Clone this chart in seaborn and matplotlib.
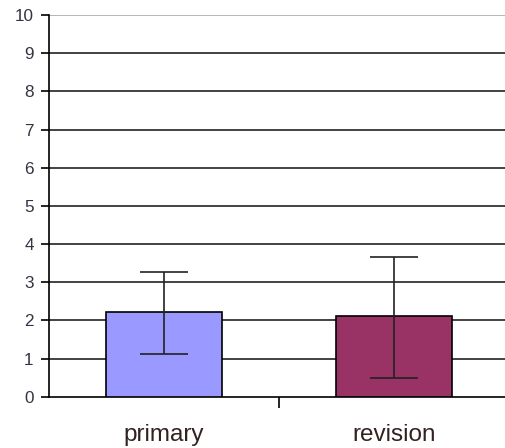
import matplotlib
matplotlib.use("Agg")
import matplotlib.pyplot as plt
import seaborn as sns
import pandas as pd

categories = ["primary", "revision"]
means = [2.22, 2.11]
err_low = [1.12, 0.48]
err_high = [3.26, 3.67]
y_ticks = list(range(0, 11))
bar_colors = ["#9999FF", "#993366"]

sns.set_style("white")
plt.rcParams["font.family"] = ["Liberation Sans", "DejaVu Sans"]

df = pd.DataFrame({"group": categories, "value": means})

fig = plt.figure(figsize=(5.05, 4.48), dpi=100)
ax = fig.add_axes([49 / 505, 1 - 396.7 / 448, 1 - 49 / 505, (396.7 - 15) / 448])

sns.barplot(data=df, x="group", y="value", hue="group", palette=bar_colors,
            saturation=1, errorbar=None, width=0.505, edgecolor="black",
            linewidth=1.2, legend=False, ax=ax, zorder=3)

yerr = [[m - lo for m, lo in zip(means, err_low)],
        [hi - m for m, hi in zip(means, err_high)]]
ax.errorbar(range(len(categories)), means, yerr=yerr, fmt="none",
            ecolor="#222222", elinewidth=1.2, capsize=17, capthick=1.2, zorder=4)

ax.set_ylim(0, 10)
ax.set_xlim(-0.5, 1.483)
ax.set_yticks(y_ticks)
for t in y_ticks[1:]:
    ax.axhline(t, color="#aaaaaa" if t == 10 else "#222222", lw=1.2, zorder=1)

ax.set_xlabel("")
ax.set_ylabel("")
for s in ["top", "right"]:
    ax.spines[s].set_visible(False)
ax.spines["left"].set_color("black")
ax.spines["bottom"].set_color("black")
ax.spines["left"].set_linewidth(1.2)
ax.spines["bottom"].set_linewidth(1.2)

ax.tick_params(axis="y", direction="out", length=6, width=1.2, color="black",
               pad=5, labelsize=12.3, labelcolor="#333344", left=True)
ax.tick_params(axis="x", which="major", length=0, pad=20, labelsize=17.5,
               labelcolor="#332222")
ax.set_xticks([0.5], minor=True)
ax.tick_params(axis="x", which="minor", direction="out", length=8, width=1.2,
               color="black", bottom=True)

fig.savefig("out.png", dpi=100)
